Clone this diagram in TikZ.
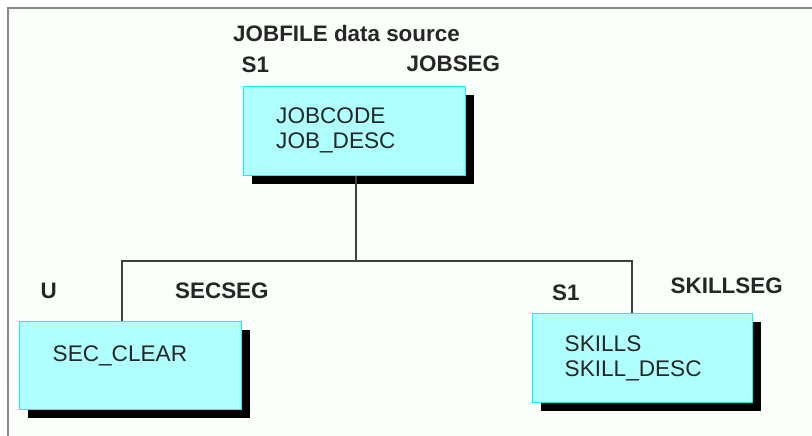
\documentclass[tikz,border=0pt]{standalone}
\usepackage{fontspec}
\setmainfont{Liberation Sans}
\usetikzlibrary{shadows}
\definecolor{boxfill}{HTML}{B0FFFF}
\definecolor{boxline}{HTML}{10F4F4}
\definecolor{conn}{HTML}{404040}
\definecolor{frame}{HTML}{888888}
\begin{document}
\begin{tikzpicture}[x=1pt,y=-1pt,
  segbox/.style={draw=boxline, line width=1.4pt, fill=boxfill, rectangle, inner sep=0pt,
    anchor=north west, minimum width=#1,
    drop shadow={shadow xshift=8.5pt, shadow yshift=-8.5pt, fill=black, opacity=1}},
  lbl/.style={anchor=base west, inner sep=0pt, font=\fontsize{22.4}{25}\selectfont\bfseries, text=black!85},
  fld/.style={anchor=base west, inner sep=0pt, font=\fontsize{22.6}{25}\selectfont, text=black!85},
  connector/.style={draw=conn, line width=1.5pt}]
\useasboundingbox (0,0) rectangle (812,436);
\fill[white!98!green] (8,9) rectangle (812,436);
\draw[frame, line width=2pt] (7.5,436) -- (7.5,8.5) -- (812,8.5);
% boxes
\node[segbox=222pt, minimum height=89pt] (jobseg) at (243,86) {};
\node[segbox=222pt, minimum height=88pt] (secseg) at (19,321) {};
\node[segbox=220pt, minimum height=89pt] (skillseg) at (532,313) {};
% labels
\node[lbl] (title) at (233,41.5) {JOBFILE data source};
\node[lbl] (s1top) at (241.5,73) {S1};
\node[lbl] (jobname) at (406.5,72) {JOBSEG};
\node[lbl] (u) at (40.5,298) {U};
\node[lbl] (secname) at (175,298) {SECSEG};
\node[lbl] (s1right) at (552,300) {S1};
\node[lbl] (skillname) at (670.5,293) {SKILLSEG};
% fields
\node[fld] (f1) at (276,124) {JOBCODE};
\node[fld] (f2) at (276,149) {JOB\_DESC};
\node[fld] (f3) at (52.5,361.5) {SEC\_CLEAR};
\node[fld] (f4) at (564.5,351.5) {SKILLS};
\node[fld] (f5) at (564.5,376.5) {SKILL\_DESC};
% connectors
\coordinate (bus) at (356,261);
\coordinate (busl) at (122,261);
\coordinate (busr) at (632,261);
\draw[connector] (jobseg.south -| bus) -- (bus);
\draw[connector] (secseg.north -| busl) -- (busl) -- (busr) -- (skillseg.north -| busr);
\end{tikzpicture}
\end{document}
